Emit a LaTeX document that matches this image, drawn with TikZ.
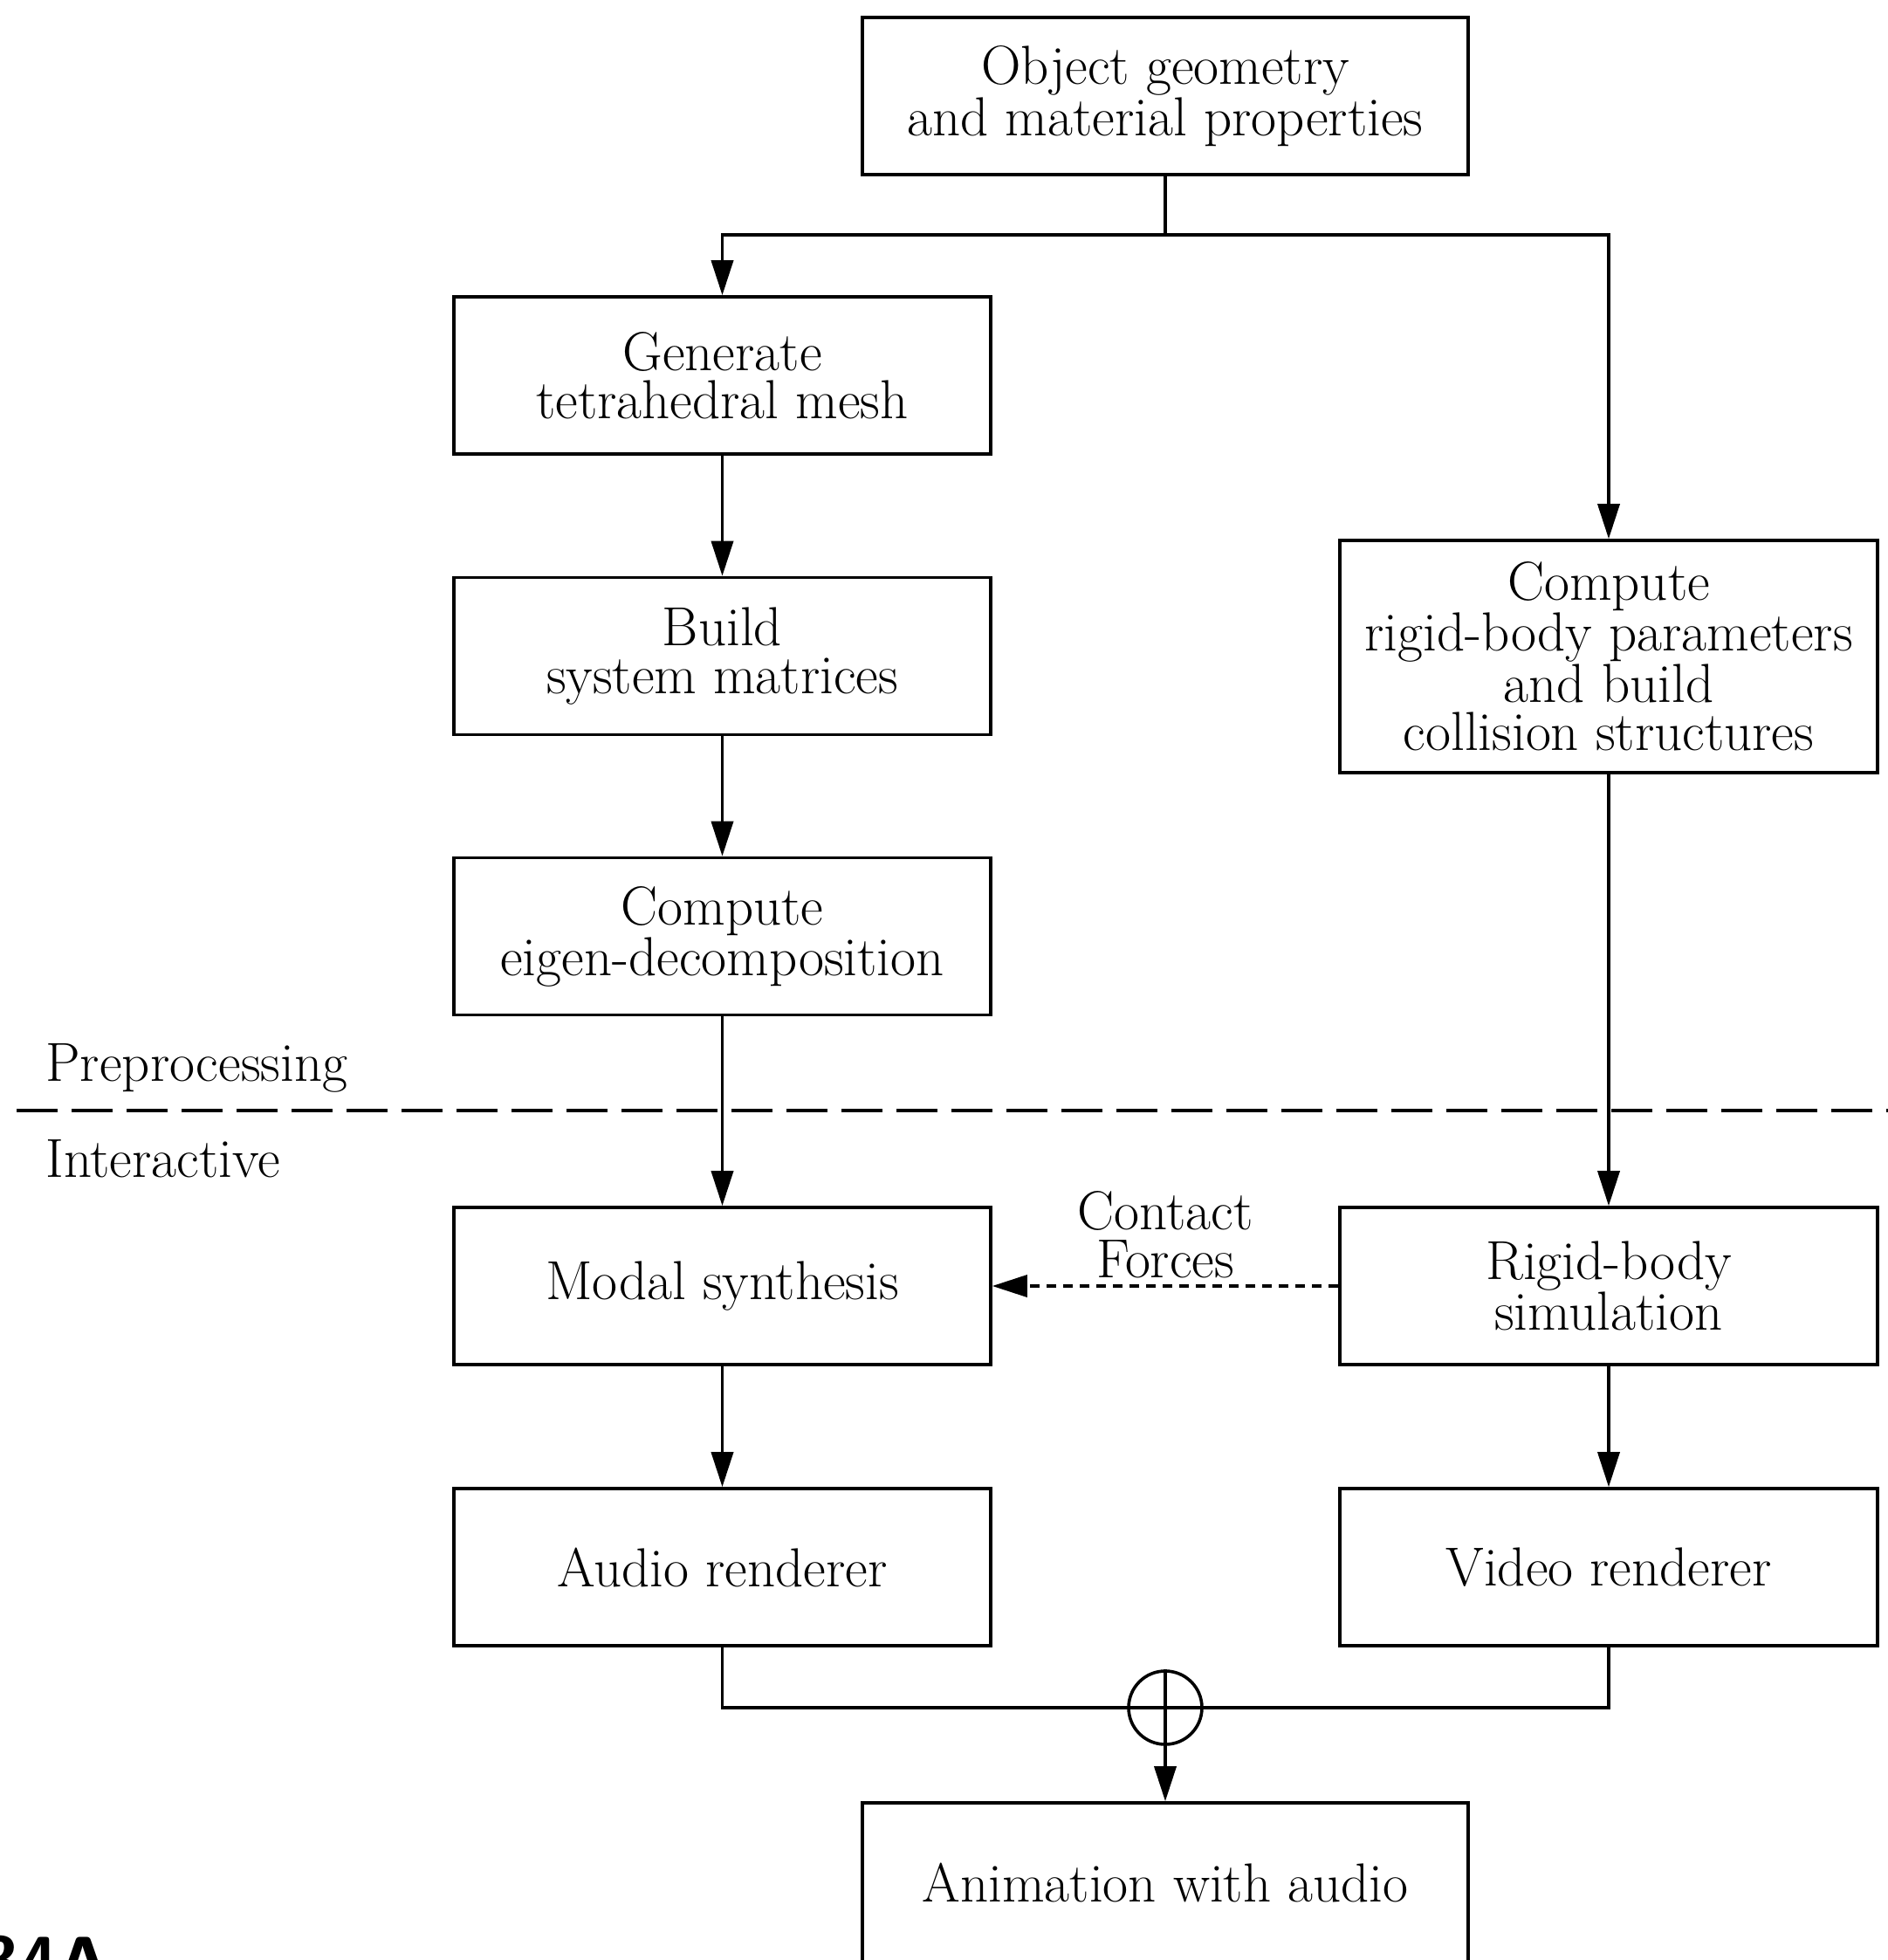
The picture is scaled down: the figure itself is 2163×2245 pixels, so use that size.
\documentclass[tikz,border=0pt]{standalone}
\usetikzlibrary{arrows.meta}
\begin{document}
\begin{tikzpicture}[x=0.5pt,y=-0.5pt,
  lw/.style={line width=1.8pt},
  txt/.style={font=\fontsize{31.5}{27.5}\selectfont},
  box/.style={draw, lw, txt, align=center, inner sep=0pt, minimum width=307.5pt, minimum height=90pt},
  wbox/.style={box, minimum width=347pt},
  arr/.style={lw, -{Triangle[length=20pt,width=12.5pt]}},
  link/.style={lw},
  dotarrow/.style={lw, dash pattern=on 5.5pt off 4pt, -{Triangle[length=20pt,width=12.5pt]}},
  divider/.style={lw, dash pattern=on 23.5pt off 8pt},
  lab/.style={txt, inner sep=0pt},
  tag/.style={font=\fontsize{40}{40}\selectfont\sffamily\bfseries, inner sep=0pt}]
\useasboundingbox (0,0) rectangle (2163,2245);
\clip (0,0) rectangle (2163,2245);

% boxes
\node[wbox] (top) at (1335,110) {Object geometry\\and material properties};
\node[box] (gen) at (827.5,430) {Generate\\tetrahedral mesh};
\node[box] (build) at (827.5,751.5) {Build\\system matrices};
\node[box] (eigen) at (827.5,1072.5) {Compute\\eigen-decomposition};
\node[box, minimum width=308pt, minimum height=133pt] (comp) at (1843,752) {Compute\\rigid-body parameters\\and build\\collision structures};
\node[box] (modal) at (827.5,1473) {Modal synthesis};
\node[box, minimum width=308pt] (sim) at (1843,1473) {Rigid-body\\simulation};
\node[box] (audio) at (827.5,1795) {Audio renderer};
\node[box, minimum width=308pt] (video) at (1843,1795) {Video renderer};
\node[wbox, minimum height=91pt] (anim) at (1335,2156) {Animation with audio};

% phase labels and divider
\node[lab, anchor=base west] (pre) at (52,1238) {Preprocessing};
\node[lab, anchor=base west] (inter) at (52,1348) {Interactive};
\coordinate (divL) at (19,1272);
\coordinate (divR) at (2200,1272);
\draw[divider] (divL) -- (divR);

% top fork
\coordinate (fork) at (1335,269);
\draw[link] (top.south) -- (fork);
\draw[arr] (fork) -| (gen.north);
\draw[arr] (fork) -| (comp.north);

% chains
\draw[arr] (gen) -- (build);
\draw[arr] (build) -- (eigen);
\draw[arr] (eigen) -- (modal);
\draw[arr] (comp) -- (sim);
\draw[arr] (modal) -- (audio);
\draw[arr] (sim) -- (video);

% contact forces
\draw[dotarrow] (sim.west) -- (modal.east);
\node[lab, align=center] (cf) at (1335,1414) {Contact\\Forces};

% summing junction
\node[circle, draw, lw, minimum size=42pt, inner sep=0pt] (sum) at (1335,1956) {};
\draw[link] (sum.north) -- (sum.south);
\draw[link] (sum.west) -- (sum.east);
\draw[link] (audio.south) |- (sum.west);
\draw[link] (video.south) |- (sum.east);
\draw[arr] (sum.south) -- (anim.north);

% figure tag (cut by the page edge)
\node[tag, anchor=north west] (figtag) at (-22,2217) {34A};
\end{tikzpicture}
\end{document}
